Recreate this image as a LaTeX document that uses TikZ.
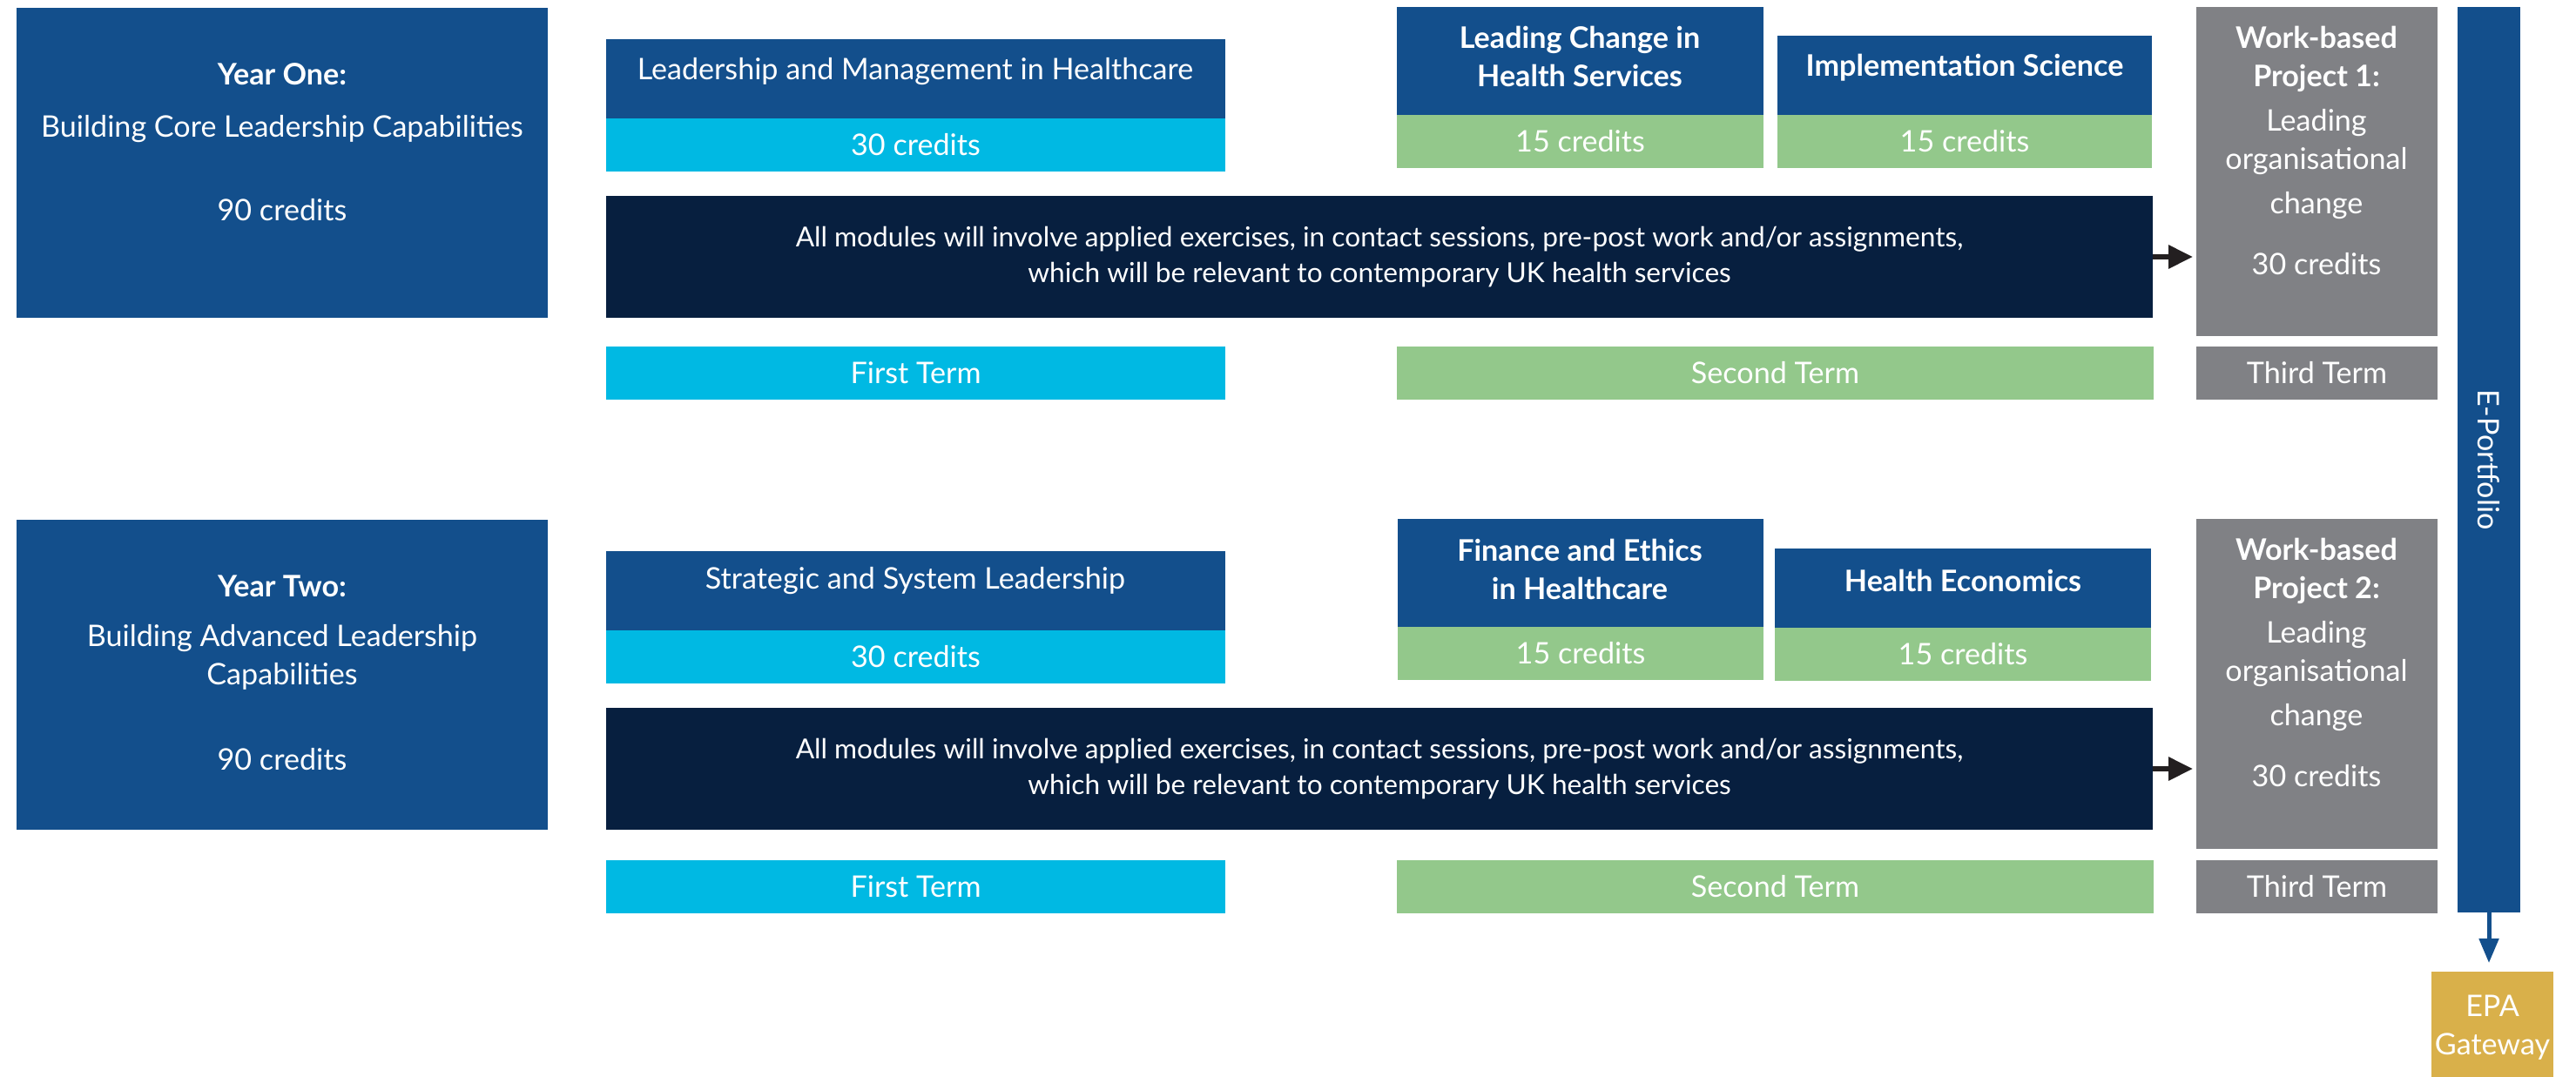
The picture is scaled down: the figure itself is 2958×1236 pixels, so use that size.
\documentclass[tikz,border=0pt]{standalone}
\usepackage{fontspec}
\setmainfont{Lato}
\usetikzlibrary{fit,arrows.meta}
\definecolor{dblue}{HTML}{134F8C}
\definecolor{skyc}{HTML}{00B9E3}
\definecolor{leaf}{HTML}{93C88B}
\definecolor{slate}{HTML}{808185}
\definecolor{navyc}{HTML}{071F3F}
\definecolor{goldc}{HTML}{D9B04A}
\definecolor{inkc}{HTML}{231F20}
\begin{document}
\begin{tikzpicture}[x=0.01cm,y=-0.01cm,
  panel/.style={inner sep=0pt, outer sep=0pt, draw=none, fill=#1},
  lbl/.style={text=white, align=center, inner sep=0pt,
    font=\fontsize{9.7}{12.5}\selectfont},
  hd/.style={lbl, font=\fontsize{9.7}{12.5}\selectfont\bfseries},
  note/.style={lbl, font=\fontsize{9.0}{11.9}\selectfont},
  feed/.style={draw=inkc, line width=1.7pt, -{Triangle[length=0.28cm,width=0.26cm]}, shorten >=0.04cm},
  down/.style={draw=dblue, line width=1.4pt, -{Triangle[length=0.28cm,width=0.22cm]}, shorten >=0.1cm}]
\useasboundingbox (0,0) rectangle (2958,1236);
\clip (0,0) rectangle (2958,1236);

% ---------- Year one ----------
\node[panel=dblue, fit={(19,9)(629,365)}] (y1) {};
\node[lbl] (y1t) at (324,163) {\textbf{Year One:}\\[0.16cm]Building Core Leadership Capabilities\\[0.52cm]90 credits};

\node[panel=dblue, fit={(696,45)(1407,136)}] (m11) {};
\node[lbl] (m11t) at (1051,82) {Leadership and Management in Healthcare};
\node[panel=skyc, fit={(696,136)(1407,197)}] (c11) {};
\node[lbl] (c11t) at (c11) {30 credits};

\node[panel=dblue, fit={(1604,8)(2025,132)}] (m12) {};
\node[hd] (m12t) at (1814,65) {Leading Change in\\Health Services};
\node[panel=leaf, fit={(1604,132)(2025,193)}] (c12) {};
\node[lbl] (c12t) at (c12) {15 credits};

\node[panel=dblue, fit={(2041,41)(2471,132)}] (m13) {};
\node[hd] (m13t) at (2256,78) {Implementation Science};
\node[panel=leaf, fit={(2041,132)(2471,193)}] (c13) {};
\node[lbl] (c13t) at (c13) {15 credits};

\node[panel=slate, fit={(2522,8)(2799,386)}] (wb1) {};
\node[lbl] (wb1t) at (2660,173) {\textbf{Work-based}\\\textbf{Project 1:}\\[0.07cm]Leading\\organisational\\[0.07cm]change\\[0.26cm]30 credits};

\node[panel=navyc, fit={(696,225)(2472,365)}] (nv1) {};
\node[note] (nv1t) at (nv1) {All modules will involve applied exercises, in contact sessions, pre-post work and/or assignments,\\which will be relevant to contemporary UK health services};

\node[panel=skyc, fit={(696,398)(1407,459)}] (t11) {};
\node[lbl] (t11t) at (t11) {First Term};
\node[panel=leaf, fit={(1604,398)(2473,459)}] (t12) {};
\node[lbl] (t12t) at (t12) {Second Term};
\node[panel=slate, fit={(2522,398)(2799,459)}] (t13) {};
\node[lbl] (t13t) at (t13) {Third Term};

% ---------- Year two ----------
\node[panel=dblue, fit={(19,597)(629,953)}] (y2) {};
\node[lbl] (y2t) at (324,773) {\textbf{Year Two:}\\[0.13cm]Building Advanced Leadership\\Capabilities\\[0.54cm]90 credits};

\node[panel=dblue, fit={(696,633)(1407,724)}] (m21) {};
\node[lbl] (m21t) at (1051,667) {Strategic and System Leadership};
\node[panel=skyc, fit={(696,724)(1407,785)}] (c21) {};
\node[lbl] (c21t) at (c21) {30 credits};

\node[panel=dblue, fit={(1605,596)(2025,720)}] (m22) {};
\node[hd] (m22t) at (1814,654) {Finance and Ethics\\in Healthcare};
\node[panel=leaf, fit={(1605,720)(2025,781)}] (c22) {};
\node[lbl] (c22t) at (c22) {15 credits};

\node[panel=dblue, fit={(2038,630)(2470,721)}] (m23) {};
\node[hd] (m23t) at (2254,667) {Health Economics};
\node[panel=leaf, fit={(2038,721)(2470,782)}] (c23) {};
\node[lbl] (c23t) at (c23) {15 credits};

\node[panel=slate, fit={(2522,596)(2799,975)}] (wb2) {};
\node[lbl] (wb2t) at (2660,761) {\textbf{Work-based}\\\textbf{Project 2:}\\[0.07cm]Leading\\organisational\\[0.07cm]change\\[0.26cm]30 credits};

\node[panel=navyc, fit={(696,813)(2472,953)}] (nv2) {};
\node[note] (nv2t) at (nv2) {All modules will involve applied exercises, in contact sessions, pre-post work and/or assignments,\\which will be relevant to contemporary UK health services};

\node[panel=skyc, fit={(696,988)(1407,1049)}] (t21) {};
\node[lbl] (t21t) at (t21) {First Term};
\node[panel=leaf, fit={(1604,988)(2473,1049)}] (t22) {};
\node[lbl] (t22t) at (t22) {Second Term};
\node[panel=slate, fit={(2522,988)(2799,1049)}] (t23) {};
\node[lbl] (t23t) at (t23) {Third Term};

% ---------- E-Portfolio and gateway ----------
\node[panel=dblue, fit={(2822,8)(2894,1048)}] (ep) {};
\node[lbl, rotate=-90] (ept) at (ep) {E-Portfolio};
\node[panel=goldc, fit={(2792,1116)(2932,1260)}] (epa) {};
\node[lbl] (epat) at (2862,1180) {EPA\\Gateway};

% ---------- connectors ----------
\draw[feed] (nv1.east) -- (nv1.east -| wb1.west);
\draw[feed] (nv2.east) -- (nv2.east -| wb2.west);
\draw[down] (ep.south) -- (ep.south |- epa.north);
\end{tikzpicture}
\end{document}
